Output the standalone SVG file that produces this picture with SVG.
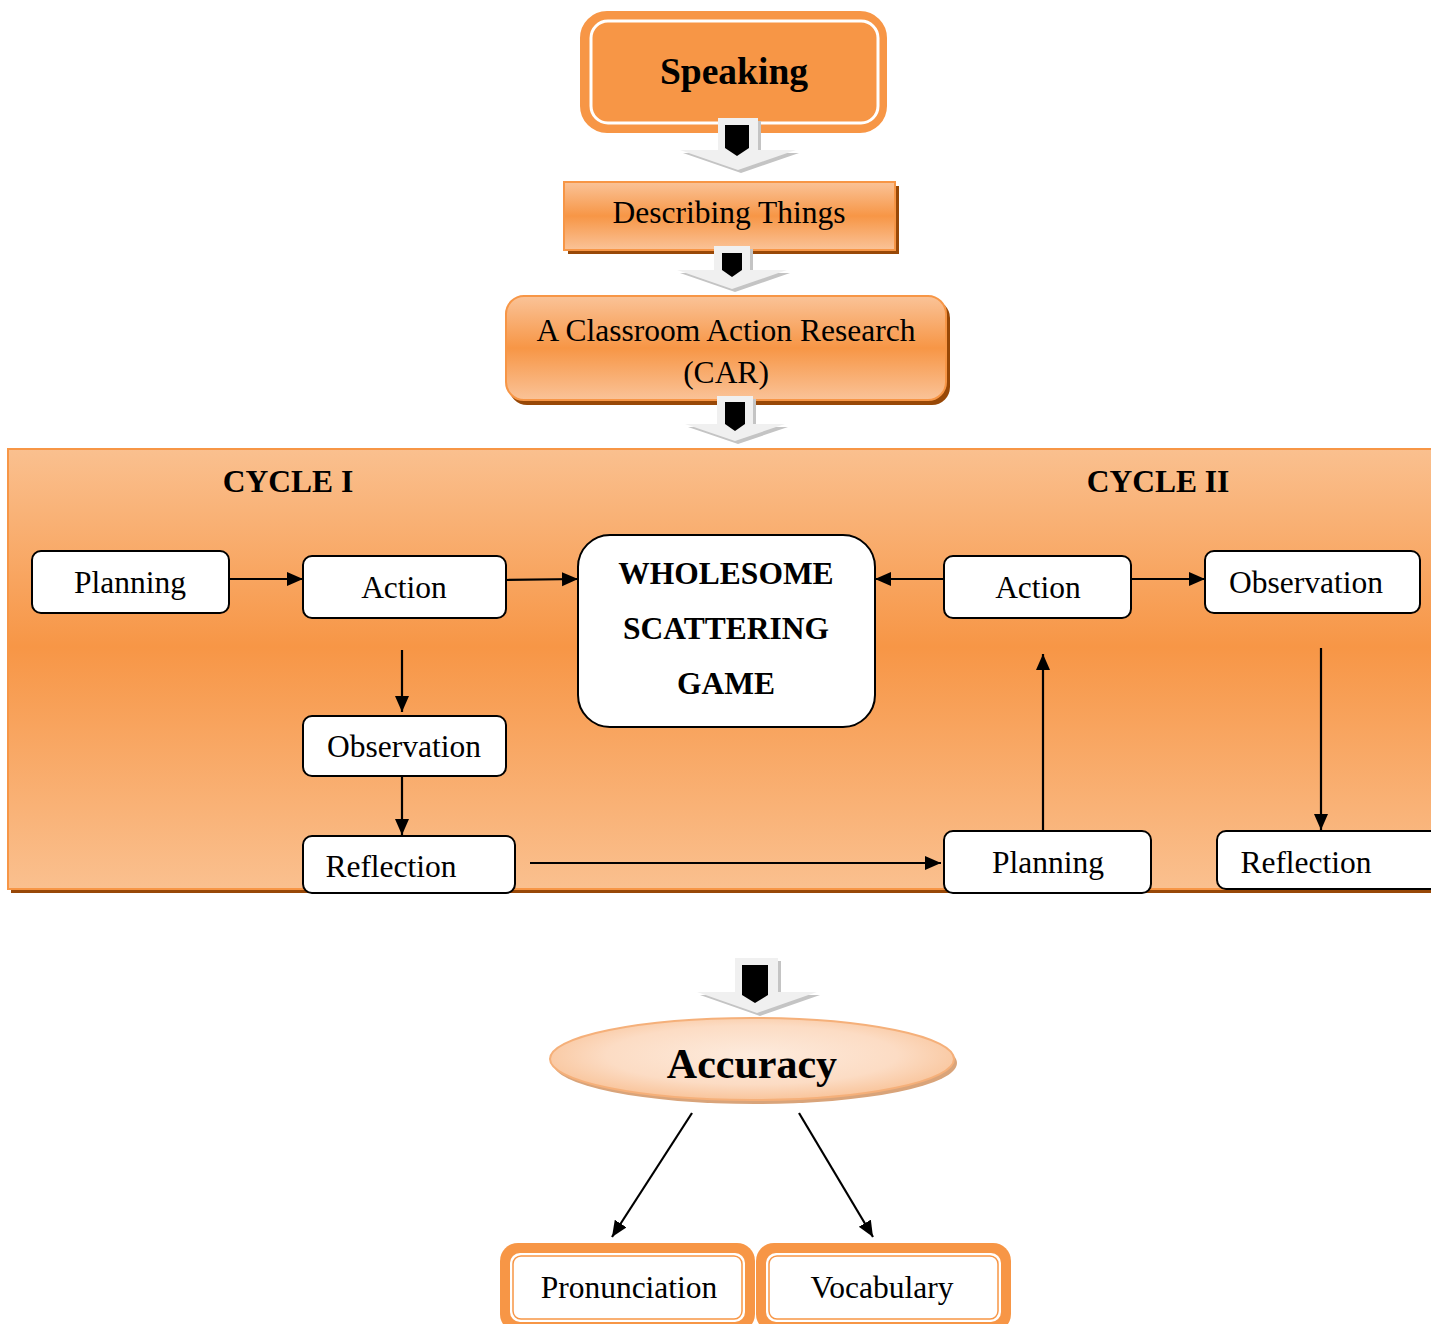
<svg xmlns="http://www.w3.org/2000/svg" width="1431" height="1324" viewBox="0 0 1431 1324">
<defs>
<linearGradient id="gBand" x1="0" y1="0" x2="0" y2="1">
<stop offset="0" stop-color="#FAC398"/>
<stop offset="0.5" stop-color="#F79646"/>
<stop offset="1" stop-color="#FAC398"/>
</linearGradient>
<linearGradient id="gPanel" x1="0" y1="0" x2="0" y2="1">
<stop offset="0" stop-color="#FAC08F"/>
<stop offset="0.45" stop-color="#F79646"/>
<stop offset="1" stop-color="#FAC08F"/>
</linearGradient>
<radialGradient id="gEll" cx="0.5" cy="0.45" r="0.6">
<stop offset="0" stop-color="#FDEBDD"/>
<stop offset="0.6" stop-color="#FCDCC4"/>
<stop offset="1" stop-color="#F8BE90"/>
</radialGradient>
<marker id="ah" markerUnits="userSpaceOnUse" markerWidth="18" markerHeight="16" refX="16" refY="7" orient="auto">
<path d="M0,0 L16,7 L0,14 z" fill="#000"/>
</marker>
<style>
.t{font-family:"Liberation Serif","Times New Roman",serif;fill:#000;text-anchor:middle;}
.r{font-size:31.5px;}
.b{font-weight:bold;font-size:31.5px;}
.node{fill:#fff;stroke:#000;stroke-width:2;}
.conn{stroke:#000;stroke-width:2.2;fill:none;}
.barr{fill:#F0F0F0;}
.bsh{fill:#C4C4C4;}
.bin{fill:#000;}
.shd{fill:#984807;}
</style>
</defs>

<g id="speaking">
<rect x="585" y="16" width="297" height="112" rx="22" fill="#F79646" stroke="#F79646" stroke-width="10"/>
<rect x="591" y="21" width="287" height="102" rx="17" fill="none" stroke="#fff" stroke-width="3"/>
<text class="t" x="734" y="84" style="font-weight:bold;font-size:37.5px">Speaking</text>
</g>

<g id="block-arrow-1">
<polygon class="bsh" points="721,121 761,121 761,153 799,153 741,173 683,153 721,153"/>
<polygon class="barr" points="718,118 758,118 758,150 796,150 738,170 680,150 718,150"/>
<polygon class="bin" points="725,125 749,125 749,148 737,156 725,148"/>
</g>

<g id="describing">
<rect class="shd" x="568" y="186" width="331" height="68"/>
<rect x="564" y="182" width="331" height="68" fill="url(#gBand)" stroke="#F79646" stroke-width="2"/>
<text class="t r" x="729" y="223">Describing Things</text>
</g>

<g id="block-arrow-2">
<polygon class="bsh" points="717,249 753,249 753,273 790,273 735,292 680,273 717,273"/>
<polygon class="barr" points="714,246 750,246 750,270 787,270 732,289 677,270 714,270"/>
<polygon class="bin" points="722,253 742,253 742,270 732,277 722,270"/>
</g>

<g id="car">
<rect class="shd" x="509" y="300" width="441" height="105" rx="18"/>
<rect x="506" y="296" width="440" height="104" rx="18" fill="url(#gBand)" stroke="#F79646" stroke-width="2"/>
<text class="t r" x="726" y="341">A Classroom Action Research</text>
<text class="t r" x="726" y="383">(CAR)</text>
</g>

<g id="block-arrow-3">
<polygon class="bsh" points="720,399 756,399 756,427 788,427 738,444 688,427 720,427"/>
<polygon class="barr" points="717,396 753,396 753,424 785,424 735,441 685,424 717,424"/>
<polygon class="bin" points="725,402 745,402 745,424 735,431 725,424"/>
</g>

<g id="panel">
<rect class="shd" x="11" y="453" width="1430" height="440"/>
<rect x="8" y="449" width="1430" height="440" fill="url(#gPanel)" stroke="#F79646" stroke-width="2"/>
<text class="t b" x="288" y="492">CYCLE I</text>
<text class="t b" x="1158" y="492">CYCLE II</text>
</g>

<g id="connectors">
<line class="conn" x1="229" y1="579" x2="303" y2="579" marker-end="url(#ah)"/>
<line class="conn" x1="506" y1="580" x2="578" y2="579" marker-end="url(#ah)"/>
<line class="conn" x1="402" y1="650" x2="402" y2="712" marker-end="url(#ah)"/>
<line class="conn" x1="402" y1="776" x2="402" y2="835" marker-end="url(#ah)"/>
<line class="conn" x1="530" y1="863" x2="941" y2="863" marker-end="url(#ah)"/>
<line class="conn" x1="1043" y1="831" x2="1043" y2="654" marker-end="url(#ah)"/>
<line class="conn" x1="944" y1="579" x2="875" y2="579" marker-end="url(#ah)"/>
<line class="conn" x1="1131" y1="579" x2="1205" y2="579" marker-end="url(#ah)"/>
<line class="conn" x1="1321" y1="648" x2="1321" y2="830" marker-end="url(#ah)"/>
<line class="conn" x1="692" y1="1113" x2="612" y2="1237" marker-end="url(#ah)"/>
<line class="conn" x1="799" y1="1113" x2="873" y2="1237" marker-end="url(#ah)"/>
</g>

<g id="planning-1">
<rect class="node" x="32" y="551" width="197" height="62" rx="9"/>
<text class="t r" x="130" y="593">Planning</text>
</g>
<g id="action-1">
<rect class="node" x="303" y="556" width="203" height="62" rx="9"/>
<text class="t r" x="404" y="598">Action</text>
</g>
<g id="observation-1">
<rect class="node" x="303" y="716" width="203" height="60" rx="9"/>
<text class="t r" x="404" y="757">Observation</text>
</g>
<g id="reflection-1">
<rect class="node" x="303" y="836" width="212" height="57" rx="9"/>
<text class="t r" x="391" y="877">Reflection</text>
</g>
<g id="game">
<rect class="node" x="578" y="535" width="297" height="192" rx="32"/>
<text class="t b" x="726" y="584">WHOLESOME</text>
<text class="t b" x="726" y="639">SCATTERING</text>
<text class="t b" x="726" y="694">GAME</text>
</g>
<g id="action-2">
<rect class="node" x="944" y="556" width="187" height="62" rx="9"/>
<text class="t r" x="1038" y="598">Action</text>
</g>
<g id="observation-2">
<rect class="node" x="1205" y="551" width="215" height="62" rx="9"/>
<text class="t r" x="1306" y="593">Observation</text>
</g>
<g id="planning-2">
<rect class="node" x="944" y="831" width="207" height="62" rx="9"/>
<text class="t r" x="1048" y="873">Planning</text>
</g>
<g id="reflection-2">
<rect class="node" x="1217" y="831" width="225" height="58" rx="9"/>
<text class="t r" x="1306" y="873">Reflection</text>
</g>

<g id="block-arrow-4">
<polygon class="bsh" points="738,961 781,961 781,995 820,995 760,1016 700,995 738,995"/>
<polygon class="barr" points="735,958 778,958 778,992 817,992 757,1013 697,992 735,992"/>
<polygon class="bin" points="742,965 768,965 768,995 755,1003 742,995"/>
</g>

<g id="accuracy">
<ellipse cx="755" cy="1063" rx="202" ry="41" fill="#D9A47A"/>
<ellipse cx="752" cy="1059" rx="202" ry="41" fill="url(#gEll)" stroke="#F5B07A" stroke-width="2"/>
<text class="t" x="752" y="1078" style="font-weight:bold;font-size:42px">Accuracy</text>
</g>

<g id="pronunciation">
<rect x="500" y="1243" width="255" height="89" rx="18" fill="#F79646"/>
<rect x="510" y="1253" width="235" height="69" rx="10" fill="#fff"/>
<rect x="513" y="1256" width="229" height="63" rx="8" fill="none" stroke="#F79646" stroke-width="1.5"/>
<text class="t r" x="629" y="1298">Pronunciation</text>
</g>
<g id="vocabulary">
<rect x="756" y="1243" width="255" height="89" rx="18" fill="#F79646"/>
<rect x="766" y="1253" width="235" height="69" rx="10" fill="#fff"/>
<rect x="769" y="1256" width="229" height="63" rx="8" fill="none" stroke="#F79646" stroke-width="1.5"/>
<text class="t r" x="882" y="1298">Vocabulary</text>
</g>
</svg>
